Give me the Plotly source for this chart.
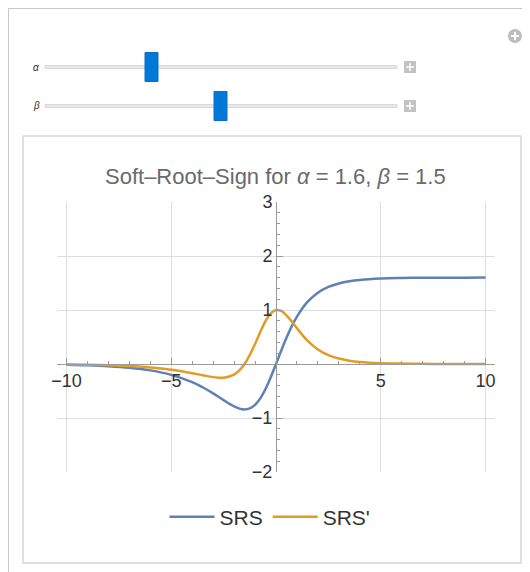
import plotly.graph_objects as go

# values (alpha = 1.6, beta = 1.5)
alpha_val = 1.6
beta_val = 1.5

x_vals = [-10, -9, -8, -7, -6, -5, -4, -3.5, -3, -2.75, -2.5, -2, -1.75, -1.5, -1.25,
          -1, -0.75, -0.5, -0.25, 0, 0.25, 0.5, 0.75, 1, 1.5, 2, 2.5, 3, 3.5,
          4, 5, 6, 7, 8, 9, 10]
srs_vals = [-0.013, -0.023, -0.040, -0.069, -0.118, -0.201, -0.336, -0.431, -0.544, -0.606,
            -0.670, -0.786, -0.826, -0.842, -0.822, -0.756, -0.636, -0.462, -0.244, 0.0,
            0.249, 0.486, 0.698, 0.878, 1.149, 1.321, 1.428, 1.492, 1.532, 1.557,
            1.582, 1.592, 1.597, 1.598, 1.599, 1.600]
dsrs_vals = [-0.007, -0.013, -0.022, -0.038, -0.063, -0.106, -0.170, -0.208, -0.243, -0.253,
             -0.254, -0.196, -0.119, 0.0, 0.166, 0.371, 0.592, 0.793, 0.937, 1.0,
             0.982, 0.902, 0.787, 0.661, 0.432, 0.269, 0.164, 0.101, 0.062, 0.039,
             0.016, 0.007, 0.003, 0.001, 0.001, 0.0]

x_ticks = [-10, -5, 5, 10]
y_ticks = [-2, -1, 1, 2, 3]

# page has an 8px body margin, so the figure starts at (8, 8)
OFF = 8
W, H = 522, 564
L, R, T, B = 49, 35, 194, 100
PW, PH = W - L - R, H - T - B


def px(p):
    # page pixel (from left) -> paper x
    return (p - OFF - L) / PW


def py(p):
    # page pixel (from top) -> paper y
    return (H - B - (p - OFF)) / PH


blue = '#5E81B5'
orange = '#E19C24'
axis_col = '#9a9a9a'

fig = go.Figure()
fig.add_trace(go.Scatter(x=x_vals, y=srs_vals, name='SRS', mode='lines',
                         line=dict(color=blue, width=2.5, shape='spline')))
fig.add_trace(go.Scatter(x=x_vals, y=dsrs_vals, name="SRS'", mode='lines',
                         line=dict(color=orange, width=2.5, shape='spline')))

shapes = []
# outer manipulate panel and inner plot box
shapes.append(dict(type='rect', xref='paper', yref='paper', x0=px(8.5), x1=px(545), y0=py(8.5), y1=py(600),
                   line=dict(color='#c9c9c9', width=1), fillcolor='white', layer='below'))
shapes.append(dict(type='rect', xref='paper', yref='paper', x0=px(23), x1=px(521), y0=py(136), y1=py(563),
                   line=dict(color='#d6d6d6', width=1.5), fillcolor='white', layer='below'))
# sliders
for yc, hx in [(67, 151.5), (106, 220.5)]:
    shapes.append(dict(type='rect', xref='paper', yref='paper', x0=px(45), x1=px(397),
                       y0=py(yc - 1.5), y1=py(yc + 1.5),
                       line=dict(color='#dadada', width=1), fillcolor='#e8e8e8'))
    shapes.append(dict(type='rect', xref='paper', yref='paper', x0=px(hx - 6.5), x1=px(hx + 6.5),
                       y0=py(yc - 14.5), y1=py(yc + 14.5),
                       line=dict(color='#0a6fc8', width=1), fillcolor='#0078d7'))
    shapes.append(dict(type='rect', xref='paper', yref='paper', x0=px(404), x1=px(416),
                       y0=py(yc - 6), y1=py(yc + 6),
                       line=dict(width=0), fillcolor='#c3c3c3'))
    shapes.append(dict(type='line', xref='paper', yref='paper', x0=px(406), x1=px(414),
                       y0=py(yc), y1=py(yc), line=dict(color='white', width=1.5)))
    shapes.append(dict(type='line', xref='paper', yref='paper', x0=px(410), x1=px(410),
                       y0=py(yc - 4), y1=py(yc + 4), line=dict(color='white', width=1.5)))
# circled plus icon
shapes.append(dict(type='circle', xref='paper', yref='paper', x0=px(508), x1=px(522),
                   y0=py(29), y1=py(43), line=dict(width=0), fillcolor='#bdbdbd'))
shapes.append(dict(type='line', xref='paper', yref='paper', x0=px(511), x1=px(519),
                   y0=py(36), y1=py(36), line=dict(color='white', width=2)))
shapes.append(dict(type='line', xref='paper', yref='paper', x0=px(515), x1=px(515),
                   y0=py(32), y1=py(40), line=dict(color='white', width=2)))

annotations = [
    dict(text='<i>α</i>', xref='paper', yref='paper', x=px(36), y=py(67), showarrow=False,
         font=dict(size=10, color='#333'), xanchor='center', yanchor='middle'),
    dict(text='<i>β</i>', xref='paper', yref='paper', x=px(36), y=py(106), showarrow=False,
         font=dict(size=10, color='#333'), xanchor='center', yanchor='middle'),
    dict(text='Soft–Root–Sign for <i>α</i> = %s, <i>β</i> = %s' % (alpha_val, beta_val),
         xref='paper', yref='paper', x=px(275.5), y=py(176), showarrow=False,
         font=dict(size=22, color='#6a6a6a'), xanchor='center', yanchor='middle'),
]

fig.update_layout(
    width=W, height=H,
    margin=dict(l=L, r=R, t=T, b=B, pad=0),
    paper_bgcolor='white', plot_bgcolor='rgba(0,0,0,0)',
    font=dict(family='Liberation Sans, Arial, sans-serif', color='#333'),
    shapes=shapes, annotations=annotations,
    showlegend=True,
    legend=dict(orientation='h', x=px(270), xanchor='center', y=py(517), yanchor='middle',
                font=dict(size=21, color='#333'), bgcolor='rgba(0,0,0,0)',
                itemwidth=45),
    xaxis=dict(range=[-10.45, 10.45], anchor='free', position=0.4,
               tickmode='array', tickvals=x_ticks, ticks='inside', ticklen=6,
               tickcolor=axis_col, tickfont=dict(size=18, color='#333'),
               showline=True, linecolor=axis_col, linewidth=1,
               showgrid=True, gridcolor='#dddddd', gridwidth=1, zeroline=False,
               minor=dict(tick0=0, dtick=1, ticks='inside', ticklen=3, tickcolor=axis_col, showgrid=False)),
    yaxis=dict(range=[-2, 3], anchor='free', position=0.5,
               tickmode='array', tickvals=y_ticks, ticks='inside', ticklen=6,
               tickcolor=axis_col, tickfont=dict(size=18, color='#333'),
               showline=True, linecolor=axis_col, linewidth=1,
               showgrid=True, gridcolor='#dddddd', gridwidth=1, zeroline=False,
               minor=dict(tick0=0, dtick=0.2, ticks='inside', ticklen=3, tickcolor=axis_col, showgrid=False)),
)

fig.write_html('out.html')
